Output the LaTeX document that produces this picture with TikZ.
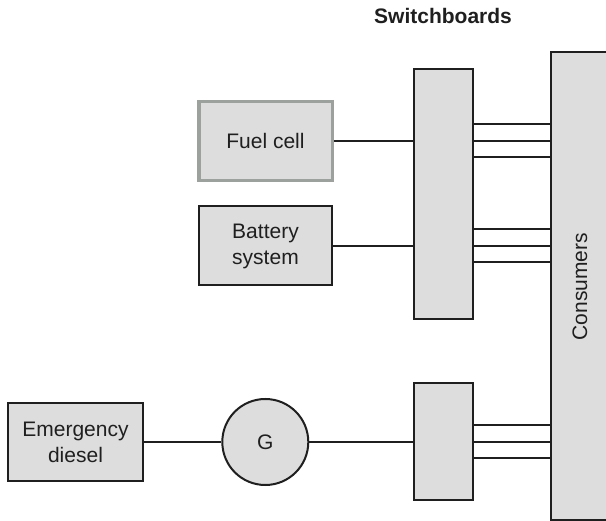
\documentclass[tikz,border=0pt]{standalone}
\usepackage{fontspec}
\setmainfont{Liberation Sans}
\usetikzlibrary{calc}
\definecolor{boxfill}{HTML}{DCDDDC}
\definecolor{ink}{HTML}{1E1F1E}
\definecolor{fcborder}{HTML}{9DA19D}
\tikzset{
  unit/.style={draw=ink, line width=2pt, fill=boxfill, inner sep=0pt, text=ink,
    font=\fontsize{21}{26}\selectfont, align=center},
  fcbox/.style={unit, draw=fcborder, line width=3.5pt},
  board/.style={unit},
  gen/.style={unit, circle, minimum size=86pt},
  conn/.style={draw=ink, line width=2pt},
}
\begin{document}
\begin{tikzpicture}[x=1pt,y=-1pt]
\useasboundingbox (0,0) rectangle (606,521);
% nodes
\node[fcbox, minimum width=133.5pt, minimum height=79pt] (fuel) at (265.5,141) {Fuel cell};
\node[unit, minimum width=133pt, minimum height=79pt] (batt) at (265.5,246) {Battery\\system};
\node[unit, minimum width=135pt, minimum height=78pt] (emer) at (75.5,442) {Emergency\\diesel};
\node[gen] (gen) at (265.3,442) {G};
\node[board, minimum width=59pt, minimum height=250pt] (upper) at (443,194.5) {};
\node[board, minimum width=59pt, minimum height=117pt] (lower) at (443,442) {};
\node[unit, draw=none, minimum width=56pt, minimum height=466pt] (cons) at (580,286.5) {\rotatebox{90}{Consumers}};
\draw[draw=ink, line width=2pt] ([xshift=10pt]cons.north east) -- (cons.north west) -- (cons.south west) -- ([xshift=10pt]cons.south east);
\node[text=ink, font=\fontsize{21}{26}\selectfont\bfseries] (title) at (443,15.5) {Switchboards};
% connectors to switchboards
\draw[conn] (fuel.east) -- (fuel.east -| upper.west);
\draw[conn] (batt.east) -- (batt.east -| upper.west);
\draw[conn] (emer.east) -- (gen.west);
\draw[conn] (gen.east) -- (gen.east -| lower.west);
% switchboards to consumers
\foreach \src/\brd in {fuel/upper, batt/upper, gen/lower}{
  \foreach \d in {-16.5,0,16.5}{
    \draw[conn] ($(\brd.east |- \src.east)+(0,\d)$) -- ($(cons.west |- \src.east)+(0,\d)$);
  }
}
\end{tikzpicture}
\end{document}
